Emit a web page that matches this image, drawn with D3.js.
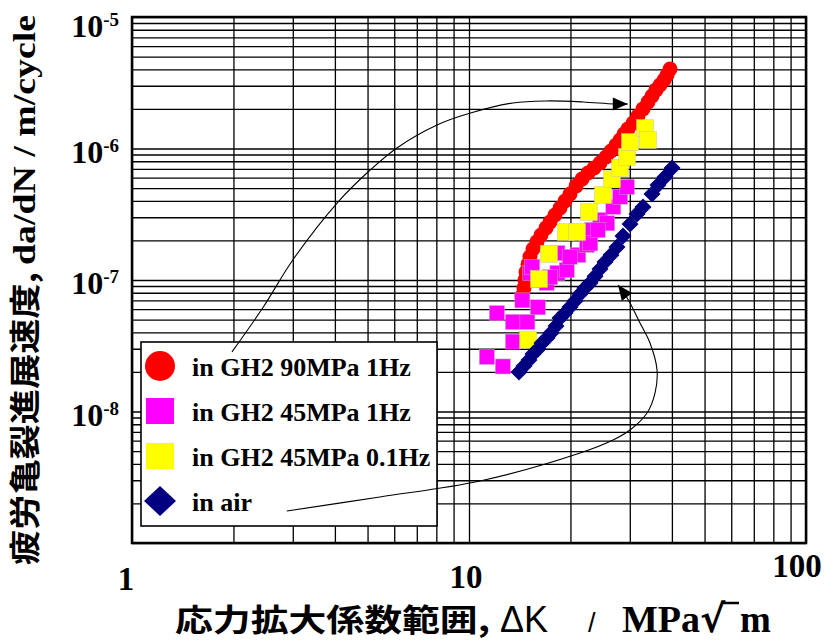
<!DOCTYPE html>
<html>
<head>
<meta charset="utf-8">
<script src="https://cdn.jsdelivr.net/npm/d3@7"></script>
<style>
  body { margin: 0; background: #fff; }
  svg { display: block; }
  .serif { font-family: "Liberation Serif", "Times New Roman", serif; font-weight: bold; }
  .cjk { font-family: "Noto Sans CJK JP", "Noto Sans CJK SC", sans-serif; font-weight: bold; }
  .sans { font-family: "Liberation Sans", Arial, sans-serif; }
</style>
</head>
<body>
<div id="chart"></div>
<script>
// ΔK [MPa√m], da/dN [m/cycle]
const gh2_90MPa_1Hz = [
  [14.36, 7.55e-8], [14.56, 8.69e-8], [14.66, 1.00e-7], [14.76, 1.15e-7], [14.97, 1.32e-7],
  [15.17, 1.50e-7], [15.48, 1.72e-7], [15.91, 1.95e-7], [16.36, 2.20e-7], [16.93, 2.49e-7],
  [17.39, 2.76e-7], [17.99, 3.12e-7], [18.62, 3.53e-7], [19.27, 3.99e-7], [19.94, 4.51e-7],
  [20.78, 5.19e-7], [21.65, 5.86e-7], [22.55, 6.51e-7], [23.49, 7.11e-7], [24.47, 7.76e-7],
  [25.50, 8.62e-7], [26.38, 9.57e-7], [27.31, 1.06e-6], [28.06, 1.16e-6], [28.84, 1.29e-6],
  [29.64, 1.41e-6], [30.67, 1.56e-6], [31.73, 1.77e-6], [32.83, 2.00e-6], [33.97, 2.26e-6],
  [34.92, 2.51e-6], [35.89, 2.79e-6], [36.88, 3.04e-6], [37.90, 3.32e-6], [38.69, 3.62e-6],
  [39.49, 4.02e-6]
];

const gh2_45MPa_1Hz = [
  [11.3, 2.6e-8], [12.6, 2.2e-8], [12.1, 5.6e-8], [13.5, 4.8e-8], [14.9, 4.8e-8],
  [13.5, 3.4e-8], [14.4, 7.0e-8], [16.0, 6.2e-8], [15.2, 1.13e-7], [17.0, 9.5e-8],
  [18.3, 1.13e-7], [19.5, 1.19e-7], [18.3, 1.6e-7], [21.1, 1.55e-7], [22.4, 1.85e-7],
  [23.2, 2.4e-7], [24.5, 2.86e-7], [15.4, 1.26e-7], [17.4, 1.05e-7], [19.9, 1.5e-7],
  [22.9, 1.9e-7], [25.7, 2.7e-7], [26.8, 3.6e-7], [28.1, 4.3e-7], [29.4, 5.1e-7],
  [24.1, 2.4e-7]
];

const gh2_45MPa_01Hz = [
  [14.97, 3.5e-8], [16.13, 1.02e-7], [17.28, 1.58e-7], [19.40, 2.32e-7], [20.92, 2.32e-7],
  [22.70, 3.29e-7], [24.98, 4.43e-7], [26.57, 5.86e-7], [28.06, 7.11e-7], [29.43, 8.62e-7],
  [30.05, 1.12e-6], [33.29, 1.43e-6], [33.97, 1.16e-6]
];

const inAir = [
  [14.07, 2.00e-8], [14.56, 2.22e-8], [15.07, 2.46e-8], [15.48, 2.74e-8], [16.02, 2.99e-8],
  [16.47, 3.32e-8], [17.04, 3.62e-8], [17.51, 3.95e-8], [18.12, 4.47e-8], [18.62, 5.14e-8],
  [19.27, 5.61e-8], [19.94, 6.23e-8], [20.63, 6.92e-8], [21.35, 7.82e-8], [22.09, 8.69e-8],
  [22.86, 9.49e-8], [23.66, 1.07e-7], [24.47, 1.21e-7], [25.32, 1.37e-7], [26.38, 1.55e-7],
  [27.49, 1.78e-7], [28.64, 2.16e-7], [30.05, 2.67e-7], [31.51, 3.18e-7], [32.83, 3.59e-7],
  [34.92, 4.51e-7], [36.38, 5.28e-7], [38.15, 6.07e-7], [40.04, 7.11e-7]
];

const seriesNames = ["in GH2 90MPa 1Hz", "in GH2 45MPa 1Hz", "in GH2 45MPa 0.1Hz", "in air"];

// annotation arrows (legend -> curve), in data units
const arrowTo90MPa = [
  [1.98, 2.84e-8], [2.45, 6.2e-8], [3.0, 1.42e-7], [4.06, 3.85e-7], [5.09, 6.86e-7],
  [6.11, 1.01e-6], [8.04, 1.51e-6], [10.1, 1.86e-6], [13.5, 2.22e-6], [17.0, 2.30e-6],
  [21.8, 2.26e-6], [26.9, 2.18e-6], [29.6, 2.18e-6]
];
const arrowToAir = [
  [2.88, 1.75e-9], [5.44, 2.24e-9], [10.78, 2.96e-9], [21.35, 4.83e-9], [26.75, 6.07e-9],
  [30.05, 7.23e-9], [33.75, 9.74e-9], [35.64, 1.38e-8], [36.14, 2.07e-8], [34.44, 3.32e-8],
  [32.17, 4.71e-8], [30.05, 6.69e-8], [28.84, 7.96e-8], [27.68, 9.16e-8]
];

const xTickValues = [1, 10, 100];
const xTickLabels = ["1", "10", "100"];
const yTickValues = [1e-5, 1e-6, 1e-7, 1e-8];
const yTickExponents = ["-5", "-6", "-7", "-8"];

const width = 834, height = 641;
const plot = { left: 132, right: 806, top: 17, bottom: 543 };

const svg = d3.select("#chart").append("svg")
  .attr("width", width)
  .attr("height", height);

const x = d3.scaleLog().domain([1, 100]).range([plot.left, plot.right]);
const y = d3.scaleLog().domain([1e-9, 1e-5]).range([plot.bottom, plot.top]);

// grid
svg.append("g")
  .attr("transform", `translate(0,${plot.bottom})`)
  .call(d3.axisBottom(x).ticks(10).tickSize(-(plot.bottom - plot.top)).tickFormat(""))
  .call(g => g.select(".domain").remove())
  .selectAll("line").attr("stroke", "#000").attr("stroke-width", 1.3);

svg.append("g")
  .attr("transform", `translate(${plot.left},0)`)
  .call(d3.axisLeft(y).ticks(10).tickSize(-(plot.right - plot.left)).tickFormat(""))
  .call(g => g.select(".domain").remove())
  .selectAll("line").attr("stroke", "#000").attr("stroke-width", 1.3);

svg.append("rect")
  .attr("x", plot.left).attr("y", plot.top)
  .attr("width", plot.right - plot.left).attr("height", plot.bottom - plot.top)
  .attr("fill", "none").attr("stroke", "#000").attr("stroke-width", 2.5);

// tick labels
const yLab = svg.append("g").attr("class", "serif");
yTickValues.forEach((v, i) => {
  const t = yLab.append("text")
    .attr("x", 119)
    .attr("y", Math.max(y(v) + 14, plot.top + 20))
    .attr("text-anchor", "end")
    .attr("font-size", 32);
  t.append("tspan").text("10");
  t.append("tspan").attr("dy", -11).attr("font-size", 19).text(yTickExponents[i]);
});

const xNudge = [[-6, 590], [-3, 588], [-9, 577]];
svg.append("g").attr("class", "serif")
  .selectAll("text").data(xTickValues).join("text")
  .attr("x", (d, i) => x(d) + xNudge[i][0])
  .attr("y", (d, i) => xNudge[i][1])
  .attr("text-anchor", "middle")
  .attr("font-size", 33)
  .text((d, i) => xTickLabels[i]);

// series
svg.append("g").selectAll("circle").data(gh2_90MPa_1Hz).join("circle")
  .attr("cx", d => x(d[0])).attr("cy", d => y(d[1]))
  .attr("r", 7.5).attr("fill", "#ff0000");

svg.append("g").selectAll("rect").data(gh2_45MPa_1Hz).join("rect")
  .attr("x", d => x(d[0]) - 7.5).attr("y", d => y(d[1]) - 7.5)
  .attr("width", 15).attr("height", 15)
  .attr("fill", "#ff00ff").attr("stroke", "#c8a0c8").attr("stroke-width", 0.5);

svg.append("g").selectAll("rect").data(gh2_45MPa_01Hz).join("rect")
  .attr("x", d => x(d[0]) - 8.5).attr("y", d => y(d[1]) - 8.5)
  .attr("width", 17).attr("height", 17)
  .attr("fill", "#ffff00").attr("stroke", "#c8c8a0").attr("stroke-width", 0.5);

svg.append("g").selectAll("path").data(inAir).join("path")
  .attr("d", "M0,-8.5L8.5,0L0,8.5L-8.5,0Z")
  .attr("transform", d => `translate(${x(d[0])},${y(d[1])})`)
  .attr("fill", "#000080");

// legend
const legend = svg.append("g");
legend.append("rect")
  .attr("x", 141).attr("y", 342).attr("width", 296).attr("height", 184)
  .attr("fill", "#fff").attr("stroke", "#000").attr("stroke-width", 1.6);

const rowY = i => 366 + i * 45;
legend.append("circle").attr("cx", 160).attr("cy", rowY(0)).attr("r", 15).attr("fill", "#ff0000");
legend.append("rect").attr("x", 146).attr("y", rowY(1) - 13).attr("width", 28).attr("height", 26).attr("fill", "#ff00ff");
legend.append("rect").attr("x", 146).attr("y", rowY(2) - 13).attr("width", 28).attr("height", 26).attr("fill", "#ffff00");
legend.append("path").attr("d", `M160,${rowY(3) - 15}L176,${rowY(3)}L160,${rowY(3) + 15}L144,${rowY(3)}Z`).attr("fill", "#000080");

legend.selectAll("text").data(seriesNames).join("text")
  .attr("class", "serif")
  .attr("x", 192).attr("y", (d, i) => rowY(i) + 10)
  .attr("font-size", 26)
  .text(d => d);

// arrows
const line = d3.line().x(d => x(d[0])).y(d => y(d[1])).curve(d3.curveCatmullRom);
function arrow(pts) {
  svg.append("path").attr("d", line(pts))
    .attr("fill", "none").attr("stroke", "#000").attr("stroke-width", 1.1);
  const a = pts[pts.length - 2], b = pts[pts.length - 1];
  const tx = x(b[0]), ty = y(b[1]);
  let dx = tx - x(a[0]), dy = ty - y(a[1]);
  const len = Math.hypot(dx, dy); dx /= len; dy /= len;
  const L = 15, W = 6.5;
  svg.append("path")
    .attr("d", `M${tx},${ty}L${tx - L * dx - W * dy},${ty - L * dy + W * dx}L${tx - L * dx + W * dy},${ty - L * dy - W * dx}Z`)
    .attr("fill", "#000");
}
arrow(arrowTo90MPa);
arrow(arrowToAir);

// axis titles
const titleBase = 632;
svg.append("text").attr("class", "cjk")
  .attr("x", 175).attr("y", titleBase - 1)
  .attr("font-size", 31)
  .attr("textLength", 315).attr("lengthAdjust", "spacingAndGlyphs")
  .text("応力拡大係数範囲,");
svg.append("text").attr("class", "sans")
  .attr("x", 500).attr("y", titleBase).attr("font-size", 36)
  .text("ΔK");
svg.append("text").attr("class", "sans")
  .attr("x", 588).attr("y", titleBase).attr("font-size", 27)
  .text("/");
svg.append("text").attr("class", "serif")
  .attr("x", 622).attr("y", titleBase).attr("font-size", 38)
  .text("MPa");
svg.append("text")
  .attr("x", 700).attr("y", titleBase)
  .attr("font-family", "DejaVu Sans").attr("font-weight", "bold").attr("font-size", 38)
  .text("√");
svg.append("line")
  .attr("x1", 721).attr("x2", 739).attr("y1", titleBase - 29).attr("y2", titleBase - 29)
  .attr("stroke", "#000").attr("stroke-width", 2.5);
svg.append("text").attr("class", "serif")
  .attr("x", 740).attr("y", titleBase).attr("font-size", 37)
  .text("m");

svg.append("text").attr("class", "cjk")
  .attr("transform", "translate(36,565) rotate(-90)")
  .attr("font-size", 31)
  .attr("textLength", 293).attr("lengthAdjust", "spacingAndGlyphs")
  .text("疲労亀裂進展速度,");
svg.append("text").attr("class", "serif")
  .attr("transform", "translate(35,265) rotate(-90)")
  .attr("font-size", 31)
  .attr("textLength", 250).attr("lengthAdjust", "spacingAndGlyphs")
  .text("da/dN / m/cycle");
</script>
</body>
</html>
